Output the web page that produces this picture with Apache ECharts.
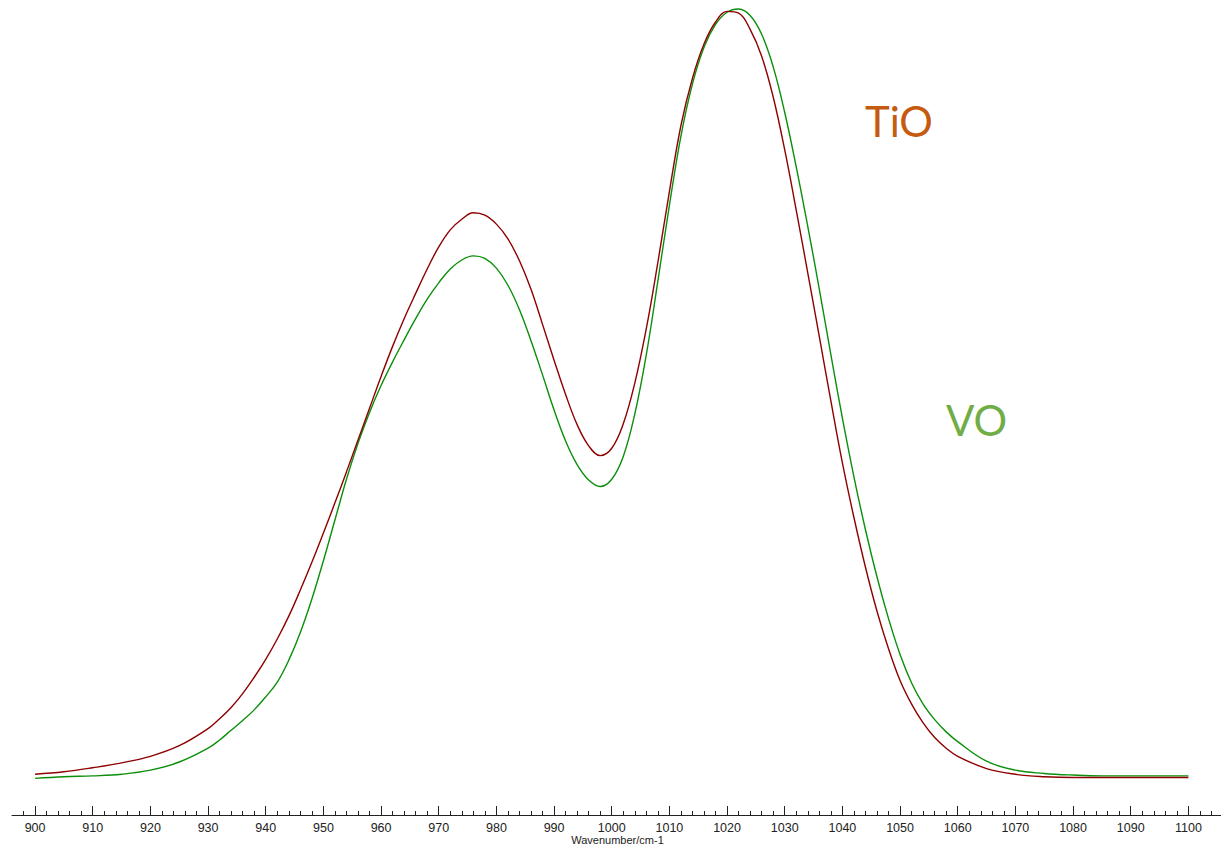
<!DOCTYPE html>
<html>
<head>
<meta charset="utf-8">
<style>
  html, body { margin: 0; padding: 0; background: #ffffff; }
  #chart { width: 1221px; height: 846px; }
</style>
<script src="https://cdn.jsdelivr.net/npm/echarts@6/dist/echarts.min.js"></script>
</head>
<body>
<div id="chart"></div>
<script>
// Wavenumber grid (cm-1) shared by both spectra
const wavenumbers = [
  900, 905, 910, 915, 920, 925,
  930, 932, 934, 936, 938, 940, 942, 944, 946, 948,
  950, 952, 954, 956, 958, 960, 962, 964, 966, 968,
  970, 972, 974, 976, 978, 980, 982, 984, 986, 988,
  990, 992, 994, 996, 998, 1000, 1002, 1004, 1006, 1008,
  1010, 1012, 1014, 1016, 1018, 1020, 1022, 1024, 1026, 1028,
  1030, 1032, 1034, 1036, 1038, 1040, 1042, 1044, 1046, 1048,
  1050, 1052, 1054, 1056, 1058, 1060,
  1065, 1070, 1075, 1080, 1085, 1090, 1095, 1100
];

// TiO spectrum (absorbance, arbitrary units)
const tioAbs = [
  0.050, 0.053, 0.058, 0.064, 0.072, 0.085,
  0.106, 0.118, 0.132, 0.149, 0.169, 0.191, 0.216, 0.244, 0.276, 0.310,
  0.346, 0.383, 0.421, 0.460, 0.499, 0.538, 0.575, 0.609, 0.640, 0.670,
  0.697, 0.718, 0.731, 0.739, 0.736, 0.725, 0.707, 0.680, 0.645, 0.602,
  0.558, 0.516, 0.479, 0.453, 0.441, 0.450, 0.480, 0.530, 0.597, 0.678,
  0.765, 0.846, 0.904, 0.946, 0.973, 0.986, 0.984, 0.964, 0.931, 0.881,
  0.816, 0.742, 0.665, 0.587, 0.508, 0.432, 0.365, 0.304, 0.250, 0.204,
  0.165, 0.136, 0.113, 0.095, 0.082, 0.072,
  0.057, 0.050, 0.047, 0.046, 0.046, 0.046, 0.046, 0.046
];

// VO spectrum (absorbance, arbitrary units)
const voAbs = [
  0.045, 0.047, 0.048, 0.050, 0.055, 0.065,
  0.082, 0.092, 0.104, 0.116, 0.129, 0.145, 0.163, 0.190, 0.224, 0.265,
  0.312, 0.362, 0.412, 0.456, 0.494, 0.527, 0.556, 0.583, 0.609, 0.633,
  0.653, 0.670, 0.681, 0.686, 0.683, 0.671, 0.650, 0.620, 0.582, 0.540,
  0.497, 0.459, 0.430, 0.411, 0.403, 0.412, 0.440, 0.492, 0.565, 0.655,
  0.748, 0.833, 0.897, 0.942, 0.970, 0.985, 0.989, 0.981, 0.958, 0.918,
  0.862, 0.795, 0.722, 0.645, 0.565, 0.487, 0.415, 0.350, 0.292, 0.241,
  0.197, 0.162, 0.136, 0.117, 0.102, 0.090,
  0.066, 0.055, 0.051, 0.049, 0.048, 0.048, 0.048, 0.048
];

// Labelled (major) ticks of the wavenumber axis
const tickLabels = [900, 910, 920, 930, 940, 950, 960, 970, 980, 990, 1000,
  1010, 1020, 1030, 1040, 1050, 1060, 1070, 1080, 1090, 1100];

// Minor ticks every 2 cm-1
const minorTicks = [];
for (let v = 898; v <= 1104; v += 2) minorTicks.push(v);

const axisMin = 896;
const axisMax = 1106;

const tioData = wavenumbers.map((w, i) => [w, tioAbs[i]]);
const voData = wavenumbers.map((w, i) => [w, voAbs[i]]);

const chart = echarts.init(document.getElementById('chart'), null, { renderer: 'svg' });

chart.setOption({
  animation: false,
  backgroundColor: '#ffffff',
  grid: { left: 12, right: -2, top: 0, bottom: 31, containLabel: false, outerBoundsMode: 'none' },
  xAxis: [
    {
      type: 'value',
      min: axisMin,
      max: axisMax,
      position: 'bottom',
      axisLine: { show: true, onZero: false, lineStyle: { color: '#222', width: 1 } },
      axisTick: { show: true, inside: true, length: 4, customValues: minorTicks,
                  lineStyle: { color: '#222', width: 1 } },
      axisLabel: { show: false },
      splitLine: { show: false },
      name: 'Wavenumber/cm-1',
      nameLocation: 'middle',
      nameGap: 19,
      nameTextStyle: { fontFamily: 'Liberation Sans', fontSize: 11, lineHeight: 11, color: '#222' }
    },
    {
      type: 'value',
      min: axisMin,
      max: axisMax,
      position: 'bottom',
      axisLine: { show: false, onZero: false },
      axisTick: { show: true, inside: true, length: 9, customValues: tickLabels,
                  lineStyle: { color: '#222', width: 1 } },
      axisLabel: { show: true, customValues: tickLabels, margin: 6,
                   formatter: (v) => String(v),
                   fontFamily: 'Liberation Sans', fontSize: 12.5, color: '#222' },
      splitLine: { show: false }
    }
  ],
  yAxis: { type: 'value', min: 0, max: 1, show: false },
  series: [
    {
      name: 'TiO',
      type: 'line',
      xAxisIndex: 0,
      data: tioData,
      showSymbol: false,
      smooth: 0.4,
      clip: false,
      lineStyle: { color: '#8e0000', width: 1.4 },
      z: 3
    },
    {
      name: 'VO',
      type: 'line',
      xAxisIndex: 0,
      data: voData,
      showSymbol: false,
      smooth: 0.4,
      clip: false,
      lineStyle: { color: '#0b8f0b', width: 1.4 },
      z: 2
    }
  ],
  graphic: [
    {
      type: 'text',
      left: 865,
      top: 100,
      style: { text: 'TiO', fill: '#c55a11', font: '42px Lato' }
    },
    {
      type: 'text',
      left: 946,
      top: 399,
      style: { text: 'VO', fill: '#70ad47', font: '42px Lato' }
    }
  ]
});
</script>
</body>
</html>
